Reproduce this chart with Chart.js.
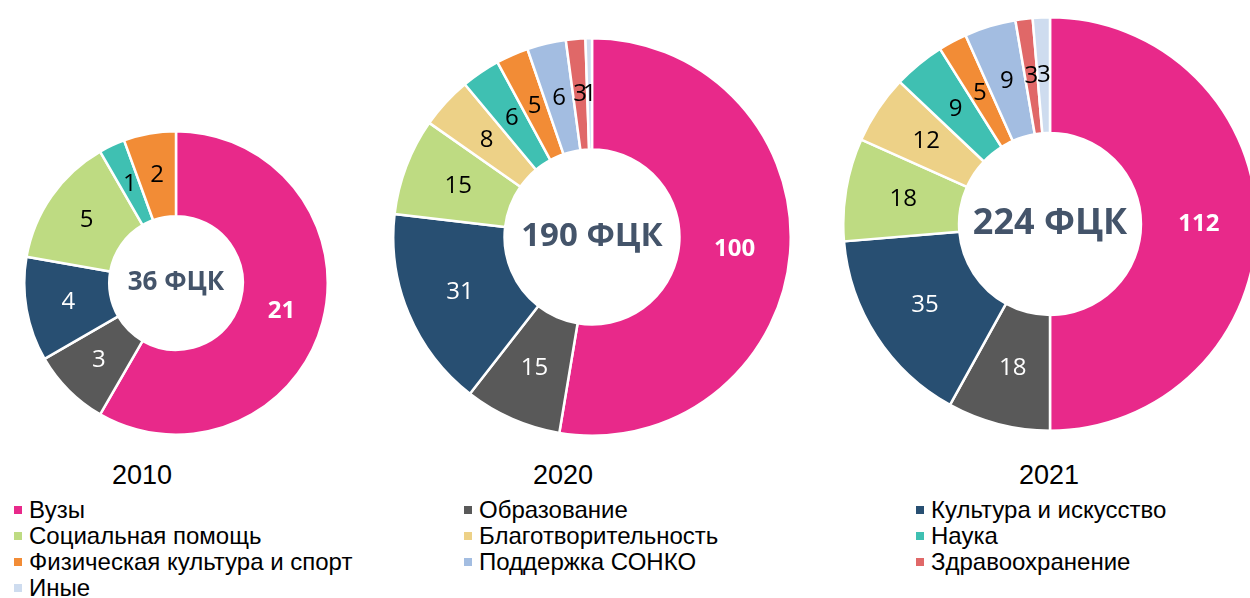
<!DOCTYPE html>
<html lang="ru">
<head>
<meta charset="utf-8">
<script src="https://cdn.jsdelivr.net/npm/chart.js@4.4.1/dist/chart.umd.min.js"></script>
<style>
    html, body { margin: 0; padding: 0; background: #fff; overflow: hidden; }
    body { width: 1250px; height: 598px; position: relative; }
    .donut { position: absolute; }
    .year { position: absolute; font-family: 'Liberation Sans', Arial, sans-serif; font-size: 27px; line-height: 30px; color: #000; transform: translateX(-50%); }
    .legend-item { position: absolute; font-family: 'Liberation Sans', Arial, sans-serif; font-size: 24px; color: #000; white-space: nowrap; line-height: 26px; }
    .legend-item i { display: inline-block; width: 8px; height: 8px; margin-right: 7px; vertical-align: 4px; }
</style>
</head>
<body>
<div class="donut" style="left:23px; top:130px; width:306px; height:306px;"><canvas id="chart-2010"></canvas></div>
<div class="donut" style="left:392px; top:37px; width:400px; height:400px;"><canvas id="chart-2020"></canvas></div>
<div class="donut" style="left:842px; top:16px; width:416px; height:416px;"><canvas id="chart-2021"></canvas></div>
<div id="years"></div>
<div id="legend"></div>

<script>
// Данные
const categories = ['Вузы', 'Образование', 'Культура и искусство', 'Социальная помощь',
    'Благотворительность', 'Наука', 'Физическая культура и спорт', 'Поддержка СОНКО',
    'Здравоохранение', 'Иные'];
const years = ['2010', '2020', '2021'];
const values2010 = [21, 3, 4, 5, 0, 1, 2, 0, 0, 0];
const values2020 = [100, 15, 31, 15, 8, 6, 5, 6, 3, 1];
const values2021 = [112, 18, 35, 18, 12, 9, 5, 9, 3, 3];

// Цвета
const colors = ['#E8298A', '#595959', '#284F72', '#BEDB82', '#EDD187', '#3FC0B2',
    '#F28C36', '#A3BDE1', '#E06868', '#CEDCEF'];
const labelColors = ['#fff', '#fff', '#fff', '#000', '#000', '#000', '#000', '#000', '#000', '#000'];

// Подписи значений внутри сегментов
const valueLabels = {
    id: 'valueLabels',
    afterDatasetsDraw(chart) {
        const ctx = chart.ctx;
        const meta = chart.getDatasetMeta(0);
        const data = chart.data.datasets[0].data;
        ctx.save();
        ctx.textAlign = 'center';
        ctx.textBaseline = 'middle';
        meta.data.forEach((arc, i) => {
            if (!data[i]) return;
            const p = arc.getProps(['x', 'y', 'startAngle', 'endAngle', 'innerRadius', 'outerRadius'], true);
            const a = (p.startAngle + p.endAngle) / 2;
            const r = (p.innerRadius + p.outerRadius) / 2;
            ctx.font = (i === 0 ? 'bold ' : '') + '24px "Open Sans", sans-serif';
            ctx.fillStyle = labelColors[i];
            ctx.fillText(data[i], p.x + Math.cos(a) * r, p.y + Math.sin(a) * r);
        });
        ctx.restore();
    }
};

// Итог в центре
const centerText = {
    id: 'centerText',
    afterDraw(chart, args, opts) {
        const ctx = chart.ctx;
        const arc = chart.getDatasetMeta(0).data[0];
        const total = chart.data.datasets[0].data.reduce((s, v) => s + v, 0);
        ctx.save();
        ctx.textAlign = 'center';
        ctx.textBaseline = 'middle';
        ctx.font = 'bold ' + opts.size + 'px "Open Sans", sans-serif';
        ctx.fillStyle = '#44546A';
        ctx.fillText(total + ' ФЦК', arc.x, arc.y);
        ctx.restore();
    }
};

function makeDonut(id, values, centerSize) {
    return new Chart(document.getElementById(id), {
        type: 'doughnut',
        data: {
            labels: categories,
            datasets: [{
                data: values,
                backgroundColor: colors,
                borderColor: '#fff',
                borderWidth: ctx => (ctx.raw === 0 ? 0 : 2.5)
            }]
        },
        options: {
            responsive: true,
            maintainAspectRatio: false,
            animation: false,
            cutout: '44%',
            layout: { padding: 0 },
            plugins: {
                legend: { display: false },
                tooltip: { enabled: false },
                centerText: { size: centerSize }
            }
        },
        plugins: [valueLabels, centerText]
    });
}

// Подписи годов и общая легенда
function buildLabels() {
    const yearX = [142, 563, 1049];
    const yearsBox = document.getElementById('years');
    years.forEach((y, i) => {
        const d = document.createElement('div');
        d.className = 'year';
        d.style.left = yearX[i] + 'px';
        d.style.top = '460px';
        d.textContent = y;
        yearsBox.appendChild(d);
    });

    const colX = [14, 464, 916];
    const legendBox = document.getElementById('legend');
    categories.forEach((name, i) => {
        const d = document.createElement('div');
        d.className = 'legend-item';
        d.style.left = colX[i % 3] + 'px';
        d.style.top = (497 + Math.floor(i / 3) * 26) + 'px';
        d.innerHTML = '<i style="background:' + colors[i] + '"></i>' + name;
        legendBox.appendChild(d);
    });
}

window.addEventListener('load', () => {
    makeDonut('chart-2010', values2010, 26);
    makeDonut('chart-2020', values2020, 33);
    makeDonut('chart-2021', values2021, 36);
    buildLabels();
});
</script>
</body>
</html>
